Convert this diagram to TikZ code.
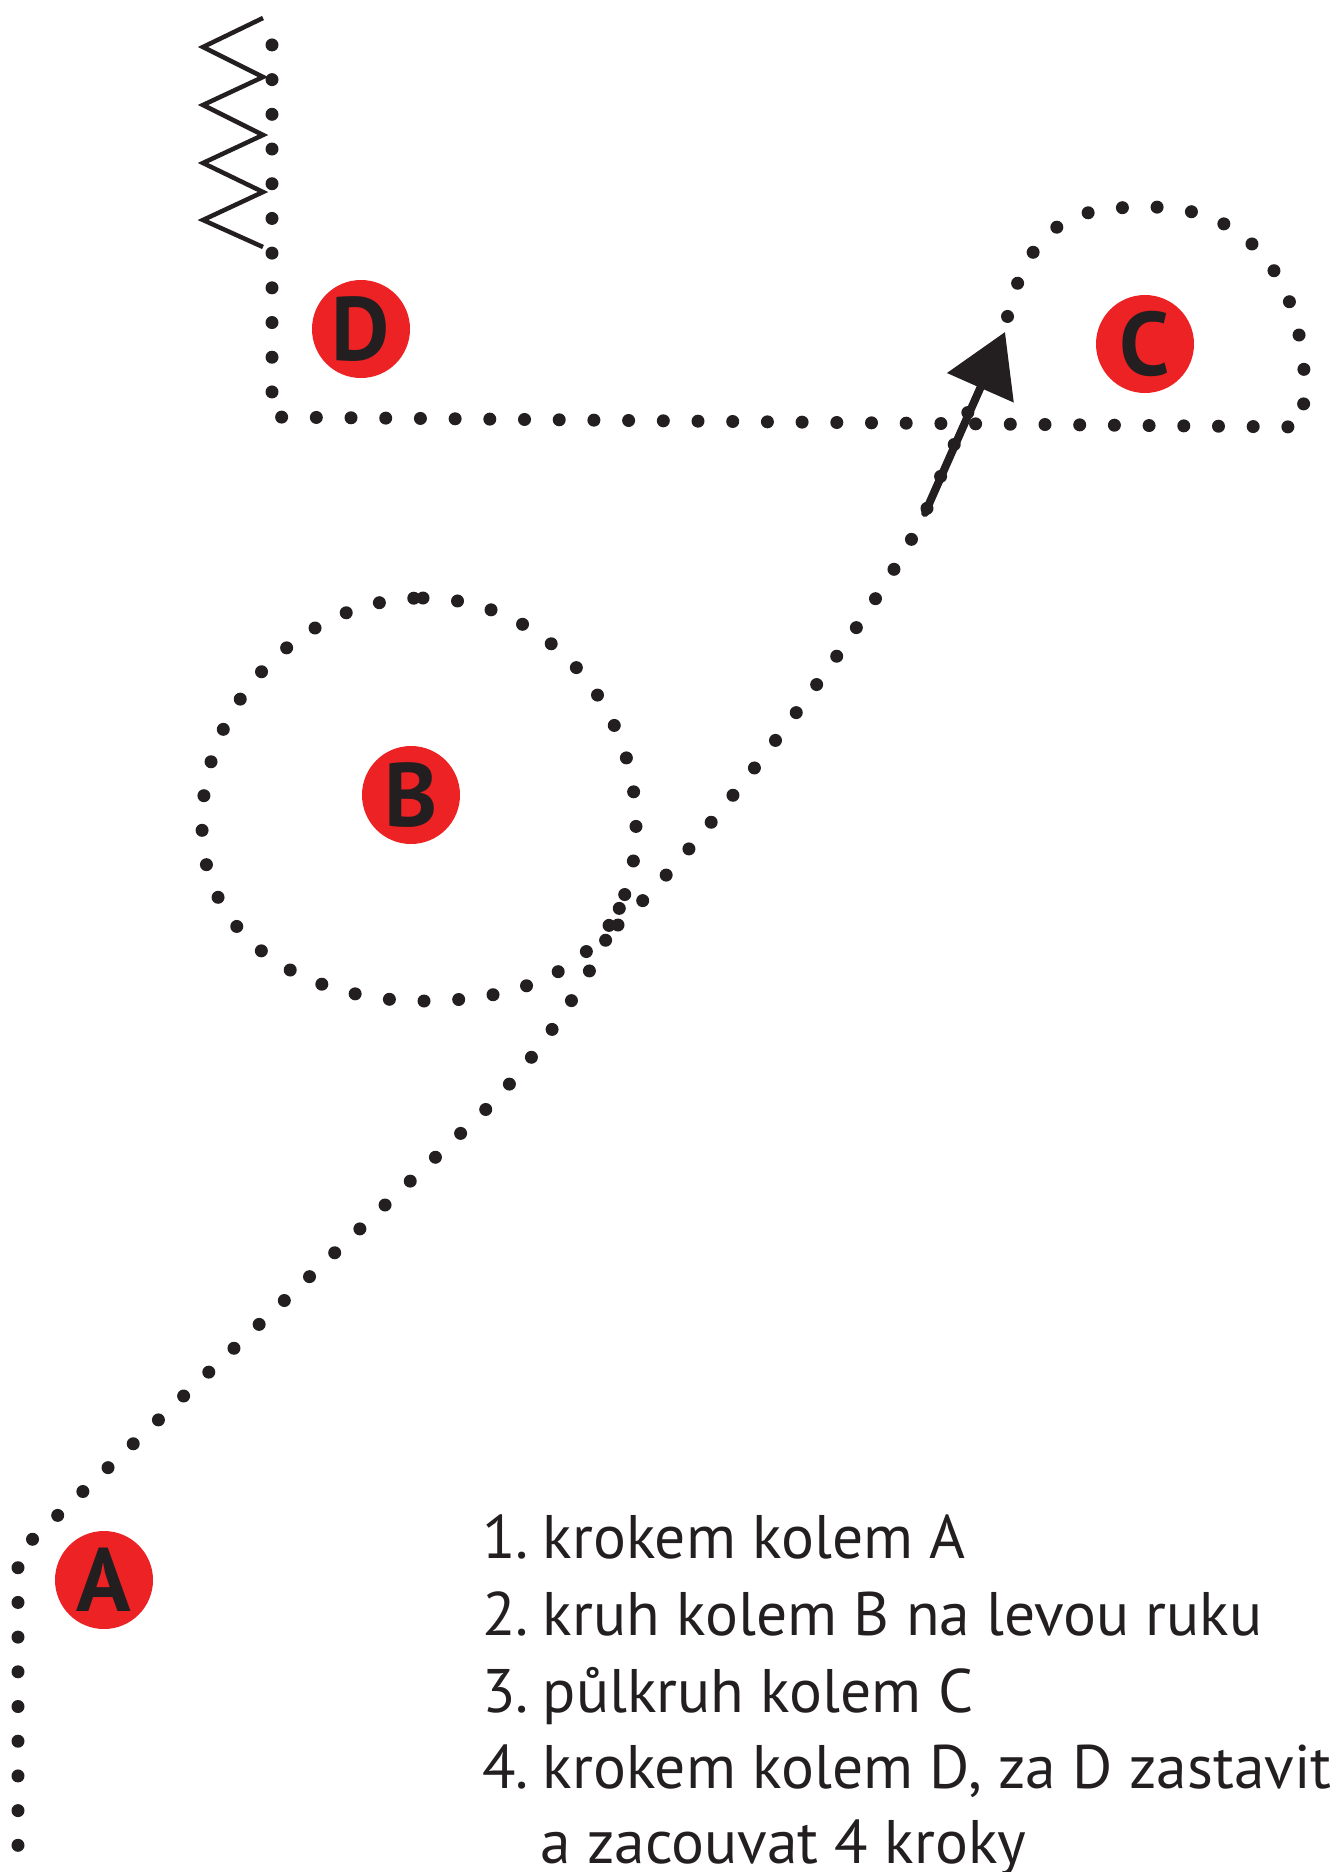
\documentclass[tikz,border=0pt]{standalone}
\usepackage{fontspec}
\setmainfont[Numbers=Proportional]{PT Sans}
\usetikzlibrary{arrows.meta}
\definecolor{markred}{HTML}{ED2224}
\definecolor{ink}{HTML}{231F20}
\newcommand{\stepno}[1]{#1.\hspace{14pt}}
\tikzset{%
marker/.style={circle,fill=markred,minimum size=98pt,inner sep=0pt,text=ink,font=\fontsize{90}{90}\selectfont\bfseries},
route/.style={draw=ink,line width=13pt,line cap=round,dash pattern=on 0pt off 34.7pt},
backstep/.style={draw=ink,line width=4.5pt,line join=miter},
heading/.style={draw=ink,line width=8pt,line cap=round,-{Triangle[length=61pt,width=71pt]}},
steptext/.style={anchor=base west,inner sep=0pt,text=ink,font=\fontsize{61.5}{77}\selectfont}
}

\begin{document}
\begin{tikzpicture}[x=1pt,y=-1pt]
    \useasboundingbox (0,0) rectangle (1338,1872);

    % the four cones
    \node[marker] (A) at (104,1580) {A};
    \node[marker] (B) at (411,795) {B};
    \node[marker] (C) at (1145,344) {C};
    \node[marker] (D) at (361,329) {D};

    % from A up to the circle round B
    \draw[route] (18,1880) -- (18,1553) -- (480,1115)
        .. controls (535,1063) and (605,960) .. (624,894);

    % the circle round B
    \draw[route] (423,598) .. controls (541,598) and (636,700) .. (636,826)
        .. controls (636,940) and (560,1001) .. (423,1001)
        .. controls (305,1001) and (202,940) .. (202,825)
        .. controls (202,700) and (305,598) .. (423,598) -- cycle;

    % on to C, half circle, back past D and up
    \draw[route] (618,925) .. controls (700,850) and (880,610) .. (925,513)
        -- (1006,323) .. controls (1030,215) and (1080,207) .. (1150,207)
        .. controls (1250,207) and (1305,280) .. (1305,397)
        -- (1299,427) -- (272,417) -- (272,20);

    % backing up
    \draw[backstep] (263,18) -- (203,47) -- (263,77) -- (203,105) -- (263,135)
        -- (203,163) -- (263,192) -- (203,220) -- (263,247);

    \coordinate (tail) at (925,513);
    \coordinate (tip) at (1005,332);
    \draw[heading] (tail) -- (tip);

    % the steps
    \node[steptext] (step1) at (482,1558) {\stepno{1}krokem kolem A};
    \node[steptext] (step2) at (482,1635) {\stepno{2}kruh kolem B na levou ruku};
    \node[steptext] (step3) at (482,1712) {\stepno{3}půlkruh kolem C};
    \node[steptext] (step4) at (482,1788) {\stepno{4}krokem kolem D, za D zastavit};
    \node[steptext] (step4b) at (540,1863) {a zacouvat 4 kroky};
\end{tikzpicture}
\end{document}
